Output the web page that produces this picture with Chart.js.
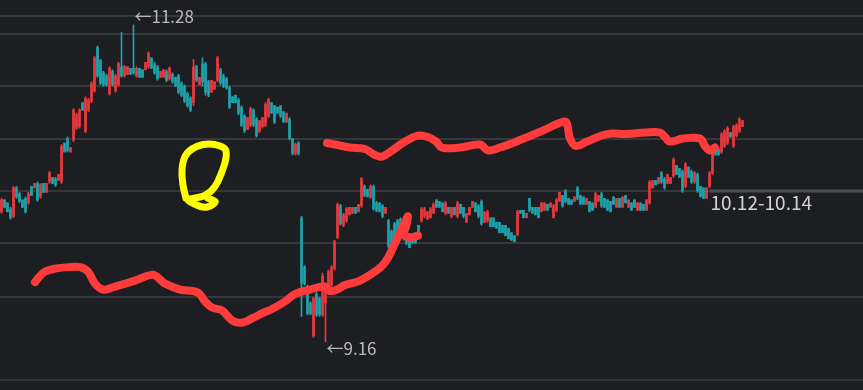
<!DOCTYPE html>
<html>
<head>
<meta charset="utf-8">
<script src="https://cdn.jsdelivr.net/npm/chart.js@4.4.1/dist/chart.umd.min.js"></script>
<style>
  html, body { margin: 0; padding: 0; background: #1d1e22; }
  #chart { display: block; background: #1d1e22; }
</style>
</head>
<body>
<canvas id="chart" width="863" height="390"></canvas>
<script>
// candle data, one entry per bar, left to right
const opens = [
  10.03,10.11,10.09,10.05,10.00,10.19,10.15,10.11,10.12,10.09,
  10.20,10.19,10.22,10.13,10.22,10.16,10.23,10.26,10.25,10.24,
  10.23,10.49,10.52,10.43,10.51,10.59,10.60,10.76,10.57,10.71,
  10.77,10.84,11.13,11.04,10.96,10.94,10.82,10.97,10.84,10.88,
  11.00,10.94,10.95,10.99,10.99,10.94,10.99,10.98,10.98,11.00,
  11.06,11.02,11.00,10.93,10.93,10.97,10.92,10.95,10.93,10.94,
  10.89,10.87,10.82,10.79,10.76,11.00,10.88,11.02,11.02,10.90,
  10.83,10.85,10.91,10.98,10.94,10.92,10.86,10.80,10.81,10.78,
  10.73,10.67,10.58,10.61,10.71,10.65,10.57,10.60,10.61,10.67,
  10.76,10.74,10.73,10.74,10.70,10.63,10.65,10.52,10.42,10.49,
  9.99,9.66,9.53,9.42,9.20,9.48,9.45,9.34,9.42,9.50,
  9.54,9.65,9.86,10.07,9.94,9.97,10.01,10.02,10.06,10.03,
  10.07,10.20,10.18,10.13,10.20,10.09,10.09,10.07,10.02,9.97,
  9.90,9.95,9.97,9.98,9.95,9.91,9.85,9.87,9.89,9.94,
  9.97,10.00,9.98,9.99,10.02,10.11,10.10,10.09,10.02,10.06,
  10.00,10.06,10.00,10.08,10.06,9.96,10.01,10.06,10.09,10.07,
  10.10,9.96,9.97,9.99,9.99,9.96,9.96,9.94,9.94,9.92,
  9.89,9.87,9.88,10.04,10.04,9.99,10.12,10.06,10.06,10.06,
  10.03,10.04,10.08,10.06,9.99,10.04,10.10,10.14,10.17,10.12,
  10.11,10.10,10.19,10.14,10.13,10.08,10.10,10.09,10.06,10.10,
  10.15,10.12,10.11,10.10,10.13,10.06,10.12,10.06,10.14,10.06,
  10.09,10.11,10.04,10.09,10.08,10.04,10.09,10.19,10.24,10.22,
  10.29,10.25,10.22,10.22,10.27,10.34,10.32,10.30,10.20,10.33,
  10.30,10.23,10.28,10.20,10.19,10.12,10.20,10.29,10.46,10.45,
  10.43,10.47,10.49,10.56,10.47,10.54,10.57,10.60
];
const highs = [
  10.12,10.11,10.09,10.06,10.20,10.20,10.16,10.11,10.13,10.16,
  10.20,10.22,10.23,10.22,10.22,10.22,10.30,10.26,10.26,10.28,
  10.48,10.49,10.53,10.46,10.72,10.69,10.72,10.76,10.80,10.79,
  10.90,11.07,11.14,11.05,10.97,10.95,11.00,10.98,10.95,11.03,
  11.23,11.01,11.00,10.99,11.28,11.00,10.99,10.98,11.03,11.10,
  11.06,11.03,11.01,10.97,10.98,10.98,11.00,10.96,10.93,10.95,
  10.90,10.88,10.83,10.80,11.05,11.01,10.93,11.06,11.03,10.91,
  10.91,10.90,11.07,10.99,10.95,10.93,10.87,10.80,10.81,10.79,
  10.74,10.68,10.66,10.73,10.72,10.66,10.64,10.66,10.76,10.79,
  10.76,10.74,10.73,10.74,10.70,10.69,10.66,10.52,10.49,10.50,
  10.00,9.67,9.54,9.43,9.46,9.49,9.46,9.62,9.54,9.64,
  9.67,9.84,10.09,10.08,10.02,10.06,10.06,10.06,10.06,10.08,
  10.26,10.21,10.18,10.21,10.21,10.10,10.09,10.08,10.06,9.98,
  9.91,9.96,9.98,9.99,9.96,9.92,9.85,9.87,9.89,9.94,
  10.06,10.06,10.03,10.06,10.09,10.11,10.10,10.09,10.10,10.06,
  10.06,10.06,10.10,10.08,10.06,10.02,10.06,10.10,10.09,10.08,
  10.11,10.03,10.04,9.99,9.99,9.96,9.96,9.94,9.94,9.92,
  9.89,9.87,10.04,10.04,10.04,10.02,10.12,10.06,10.06,10.06,
  10.09,10.09,10.08,10.09,10.08,10.12,10.16,10.14,10.18,10.12,
  10.11,10.13,10.20,10.14,10.13,10.12,10.10,10.09,10.16,10.14,
  10.16,10.12,10.11,10.10,10.13,10.12,10.12,10.13,10.14,10.11,
  10.09,10.11,10.09,10.09,10.08,10.11,10.24,10.24,10.24,10.26,
  10.30,10.26,10.28,10.26,10.39,10.34,10.32,10.31,10.36,10.33,
  10.31,10.30,10.29,10.20,10.19,10.19,10.30,10.43,10.46,10.46,
  10.56,10.58,10.60,10.56,10.61,10.62,10.66,10.64
];
const lows = [
  10.02,10.06,10.03,9.98,9.99,10.12,10.09,10.06,10.02,10.08,
  10.14,10.19,10.10,10.12,10.16,10.16,10.22,10.22,10.20,10.24,
  10.22,10.43,10.43,10.43,10.50,10.58,10.59,10.71,10.56,10.70,
  10.76,10.83,10.93,10.88,10.87,10.87,10.81,10.87,10.83,10.87,
  10.93,10.93,10.95,10.95,10.95,10.93,10.93,10.93,10.98,10.99,
  10.99,10.95,10.91,10.93,10.93,10.90,10.91,10.89,10.87,10.82,
  10.80,10.76,10.73,10.70,10.74,10.90,10.88,10.87,10.81,10.80,
  10.83,10.85,10.90,10.88,10.86,10.85,10.72,10.76,10.76,10.68,
  10.60,10.56,10.58,10.60,10.60,10.53,10.56,10.59,10.60,10.66,
  10.69,10.62,10.69,10.66,10.63,10.63,10.51,10.41,10.41,10.41,
  9.33,9.54,9.34,9.34,9.19,9.33,9.33,9.33,9.16,9.49,
  9.53,9.64,9.85,9.94,9.93,9.96,10.01,10.02,10.02,10.03,
  10.06,10.13,10.13,10.12,10.04,10.03,10.03,9.99,10.02,9.79,
  9.76,9.79,9.83,9.86,9.84,9.81,9.79,9.82,9.82,9.87,
  9.96,9.99,9.98,9.99,10.02,10.06,10.06,10.03,10.01,10.02,
  9.99,10.01,9.99,10.02,9.99,9.96,10.01,10.06,10.03,9.99,
  9.94,9.96,9.96,9.93,9.93,9.92,9.89,9.89,9.87,9.85,
  9.84,9.83,9.87,10.02,9.99,9.99,10.03,10.02,10.01,9.99,
  10.03,10.04,10.04,10.06,9.99,10.03,10.10,10.06,10.09,10.08,
  10.08,10.10,10.11,10.08,10.08,10.08,10.03,10.04,10.06,10.10,
  10.06,10.06,10.04,10.03,10.08,10.06,10.06,10.06,10.09,10.06,
  10.04,10.06,10.04,10.04,10.04,10.04,10.08,10.19,10.21,10.22,
  10.22,10.18,10.22,10.22,10.26,10.28,10.26,10.16,10.19,10.26,
  10.22,10.22,10.16,10.13,10.12,10.12,10.19,10.28,10.41,10.41,
  10.42,10.46,10.48,10.53,10.46,10.53,10.56,10.60
];
const closes = [
  10.11,10.06,10.03,9.99,10.19,10.13,10.10,10.06,10.03,10.15,
  10.14,10.22,10.11,10.21,10.16,10.22,10.29,10.22,10.21,10.28,
  10.47,10.43,10.44,10.46,10.71,10.68,10.71,10.71,10.79,10.78,
  10.89,11.06,10.94,10.89,10.88,10.88,10.99,10.88,10.94,11.02,
  10.94,11.00,11.00,10.95,10.96,10.99,10.93,10.93,11.03,11.09,
  10.99,10.96,10.92,10.97,10.98,10.91,10.99,10.90,10.87,10.83,
  10.81,10.77,10.74,10.71,11.00,10.91,10.93,10.90,10.83,10.81,
  10.91,10.90,11.06,10.89,10.87,10.86,10.73,10.76,10.76,10.69,
  10.61,10.57,10.66,10.72,10.61,10.54,10.64,10.66,10.75,10.78,
  10.69,10.63,10.69,10.67,10.63,10.69,10.52,10.42,10.48,10.42,
  9.55,9.55,9.35,9.35,9.45,9.34,9.34,9.60,9.53,9.63,
  9.66,9.83,10.08,9.95,10.01,10.05,10.06,10.06,10.02,10.08,
  10.25,10.14,10.13,10.20,10.05,10.04,10.03,10.00,10.06,9.80,
  9.77,9.80,9.84,9.87,9.85,9.82,9.79,9.82,9.82,9.87,
  10.05,10.05,10.03,10.05,10.08,10.06,10.06,10.03,10.09,10.02,
  10.06,10.01,10.09,10.02,10.00,10.02,10.06,10.10,10.03,10.00,
  9.95,10.03,10.03,9.93,9.93,9.92,9.89,9.89,9.87,9.85,
  9.84,9.83,10.03,10.02,9.99,10.02,10.04,10.02,10.01,9.99,
  10.09,10.09,10.04,10.09,10.07,10.11,10.16,10.07,10.10,10.08,
  10.08,10.13,10.12,10.08,10.08,10.12,10.03,10.04,10.15,10.14,
  10.07,10.06,10.04,10.03,10.08,10.12,10.06,10.13,10.09,10.11,
  10.04,10.06,10.09,10.04,10.04,10.11,10.23,10.24,10.21,10.26,
  10.23,10.19,10.28,10.26,10.38,10.28,10.26,10.17,10.35,10.26,
  10.23,10.29,10.17,10.13,10.12,10.19,10.29,10.42,10.41,10.41,
  10.55,10.57,10.59,10.53,10.60,10.61,10.65,10.64
];

// price levels of the horizontal grid
const gridPrices = [11.34, 11.22, 10.87, 10.52, 10.17, 9.82, 9.46, 8.905];

// highlighted level on the right
const markerStart = 236;
const markerPrice = 10.17;
const markerText = "10.12-10.14";

// hand drawn marks: [bar index, price]
const lowerStroke = [
  [11.17,9.56],[12.83,9.60],[14.5,9.63],[17.83,9.65],[22.17,9.66],[26.17,9.66],
  [28.83,9.63],[31.17,9.55],[33.83,9.51],[37.83,9.53],[44.5,9.57],[50.17,9.61],
  [52.17,9.59],[54.5,9.55],[59.5,9.51],[65.5,9.49],[67.83,9.43],[70.17,9.39],
  [73.5,9.37],[77.17,9.30],[80.5,9.29],[83.83,9.32],[86.83,9.35],[90.17,9.38],
  [94.5,9.43],[97.83,9.48],[102.83,9.51],[107.83,9.53],[109.5,9.50],[111.83,9.51],
  [114.5,9.54],[119.5,9.57],[124.5,9.63],[127.83,9.69],[130.5,9.79],[132.83,9.89],
  [134.5,9.96],[135.5,10.00],[134.83,9.93],[134.17,9.88],[136.17,9.86],[138.83,9.87]
];
const upperStroke = [
  [108.5,10.49],[111.17,10.48],[116.17,10.46],[121.17,10.45],[124.5,10.41],[126.83,10.40],
  [130.17,10.44],[134.5,10.50],[138.83,10.54],[142.17,10.53],[144.83,10.50],[146.83,10.46],
  [152.83,10.46],[159.5,10.48],[162.17,10.44],[166.17,10.46],[172.83,10.51],[181.17,10.58],
  [185.5,10.62],[188.17,10.63],[189.5,10.52],[191.5,10.47],[195.17,10.50],[201.83,10.55],
  [208.5,10.55],[214.5,10.56],[219.5,10.56],[221.17,10.53],[222.83,10.50],[227.17,10.52],
  [232.83,10.52],[234.5,10.47],[236.17,10.44],[237.83,10.46]
];
const qStroke = [
  [61.5,10.12],[60.5,10.21],[60.17,10.31],[61.17,10.40],[63.5,10.45],[67.17,10.48],
  [71.17,10.48],[74.5,10.45],[74.83,10.39],[73.5,10.30],[71.17,10.20],[67.83,10.14],
  [63.83,10.12],[62.17,10.11],[64.5,10.08],[67.83,10.06],[70.5,10.08],[71.17,10.10],
  [68.83,10.12]
];

const RED = "#e8393d";
const TEAL = "#1fa2ab";
const barColor = (ctx) => (closes[ctx.dataIndex] >= opens[ctx.dataIndex] ? RED : TEAL);
const toPoints = (arr) => arr.map((p) => ({ x: p[0], y: p[1] }));

const hiIdx = highs.indexOf(Math.max(...highs));
const loIdx = lows.indexOf(Math.min(...lows));

const notesPlugin = {
  id: "notes",
  afterDatasetsDraw(chart) {
    const { ctx, scales: { x, y } } = chart;
    ctx.save();
    ctx.textAlign = "left";
    ctx.textBaseline = "middle";
    ctx.font = "17px 'Noto Sans CJK SC', 'Noto Sans', sans-serif";
    ctx.fillStyle = "#b9b9bb";
    ctx.fillText("\u2190" + highs[hiIdx].toFixed(2), x.getPixelForValue(hiIdx) + 1, y.getPixelForValue(highs[hiIdx]) - 8);
    ctx.fillText("\u2190" + lows[loIdx].toFixed(2), x.getPixelForValue(loIdx) + 1, y.getPixelForValue(lows[loIdx]) + 7);
    ctx.font = "19px 'Noto Sans CJK SC', 'Noto Sans', sans-serif";
    ctx.fillStyle = "#d2d2d4";
    ctx.fillText(markerText, x.getPixelForValue(markerStart) + 1, y.getPixelForValue(markerPrice) + 12);
    ctx.restore();
  },
};

const strokeStyle = {
  type: "line",
  tension: 0.4,
  pointRadius: 0,
  borderCapStyle: "round",
  borderJoinStyle: "round",
  order: 1,
};

new Chart(document.getElementById("chart"), {
  type: "bar",
  data: {
    datasets: [
      {
        type: "line",
        data: [{ x: markerStart, y: markerPrice }, { x: opens.length + 40, y: markerPrice }],
        borderColor: "#4d4e53",
        borderWidth: 3,
        pointRadius: 0,
        order: 5,
      },
      {
        label: "wick",
        data: opens.map((_, i) => ({ x: i, y: [lows[i], highs[i]] })),
        backgroundColor: barColor,
        grouped: false,
        barPercentage: 1,
        categoryPercentage: 1,
        maxBarThickness: 1,
        minBarLength: 1,
        order: 4,
      },
      {
        label: "body",
        data: opens.map((_, i) => ({ x: i, y: [opens[i], closes[i]] })),
        backgroundColor: barColor,
        grouped: false,
        barPercentage: 1,
        categoryPercentage: 1,
        maxBarThickness: 2,
        minBarLength: 1,
        order: 3,
      },
      { ...strokeStyle, data: toPoints(lowerStroke), borderColor: "#ff3b3b", borderWidth: 8 },
      { ...strokeStyle, data: toPoints(upperStroke), borderColor: "#ff3b3b", borderWidth: 8 },
      { ...strokeStyle, data: toPoints(qStroke), borderColor: "#ffff00", borderWidth: 7 },
    ],
  },
  options: {
    responsive: false,
    animation: false,
    devicePixelRatio: 1,
    layout: { padding: 0 },
    plugins: { legend: { display: false }, tooltip: { enabled: false } },
    scales: {
      x: {
        type: "linear",
        min: -0.5,
        max: 287.17,
        offset: false,
        display: false,
      },
      y: {
        min: 8.838,
        max: 11.447,
        position: "right",
        border: { display: false },
        ticks: { display: false },
        grid: { color: "#36373b", lineWidth: 2, drawTicks: false },
        afterBuildTicks: (axis) => {
          axis.ticks = gridPrices.map((v) => ({ value: v }));
        },
      },
    },
  },
  plugins: [notesPlugin],
});
</script>
</body>
</html>
